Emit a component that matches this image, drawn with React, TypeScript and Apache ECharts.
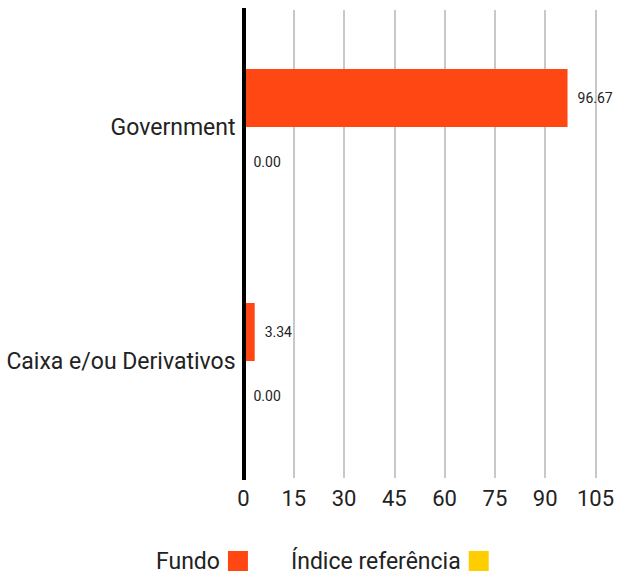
import React, { useEffect, useRef } from "react";
import * as echarts from "echarts";

const categories = ["Government", "Caixa e/ou Derivativos"];
const fundoValues = [96.67, 3.34];
const indiceValues = [0.0, 0.0];
const seriesNames = ["Fundo", "Índice referência"];
const xTicks = { min: 0, max: 105, interval: 15 };

const FONT = "Roboto";

export default function App() {
  const ref = useRef<HTMLDivElement>(null);
  useEffect(() => {
    if (!ref.current) return;
    const chart = echarts.init(ref.current, null, { renderer: "svg" });
    const labelCfg = {
      show: true,
      position: "right" as const,
      distance: 10,
      fontFamily: FONT,
      fontSize: 14,
      color: "#222",
      formatter: (p: any) => Number(p.value).toFixed(2),
    };
    chart.setOption({
      animation: false,
      backgroundColor: "#fff",
      textStyle: { fontFamily: FONT },
      grid: { left: 243.5, right: 19, top: 10, bottom: 97, containLabel: false },
      legend: {
        left: 151,
        top: 544,
        align: "right",
        itemWidth: 20,
        itemHeight: 20,
        itemGap: 43,
        icon: "rect",
        textStyle: { fontFamily: FONT, fontSize: 23, lineHeight: 24, color: "#222", padding: [0, 3, 0, 0] },
        data: seriesNames,
      },
      xAxis: {
        type: "value",
        min: xTicks.min,
        max: xTicks.max,
        interval: xTicks.interval,
        axisLine: { show: false },
        axisTick: { show: false },
        axisLabel: { fontFamily: FONT, fontSize: 22, color: "#222", margin: 9 },
        splitLine: { show: true, lineStyle: { color: "#c8c8c8", width: 2 } },
      },
      yAxis: {
        type: "category",
        inverse: true,
        data: categories,
        axisLine: { show: true, lineStyle: { color: "#000", width: 4, cap: "square" } },
        axisTick: { show: false },
        axisLabel: { fontFamily: FONT, fontSize: 23, color: "#222", margin: 8 },
        splitLine: { show: false },
        z: 10,
      },
      series: [
        {
          name: seriesNames[0],
          type: "bar",
          data: fundoValues,
          barWidth: 58,
          barGap: 0,
          itemStyle: { color: "#FF4713" },
          label: labelCfg,
        },
        {
          name: seriesNames[1],
          type: "bar",
          data: indiceValues,
          barWidth: 58,
          barGap: 0,
          itemStyle: { color: "#FFCE00" },
          label: { ...labelCfg, offset: [0, 6] },
        },
      ],
    });
    return () => chart.dispose();
  }, []);
  return (
    <div
      ref={ref}
      style={{ position: "fixed", left: 0, top: 0, width: 617, height: 575 }}
    />
  );
}
